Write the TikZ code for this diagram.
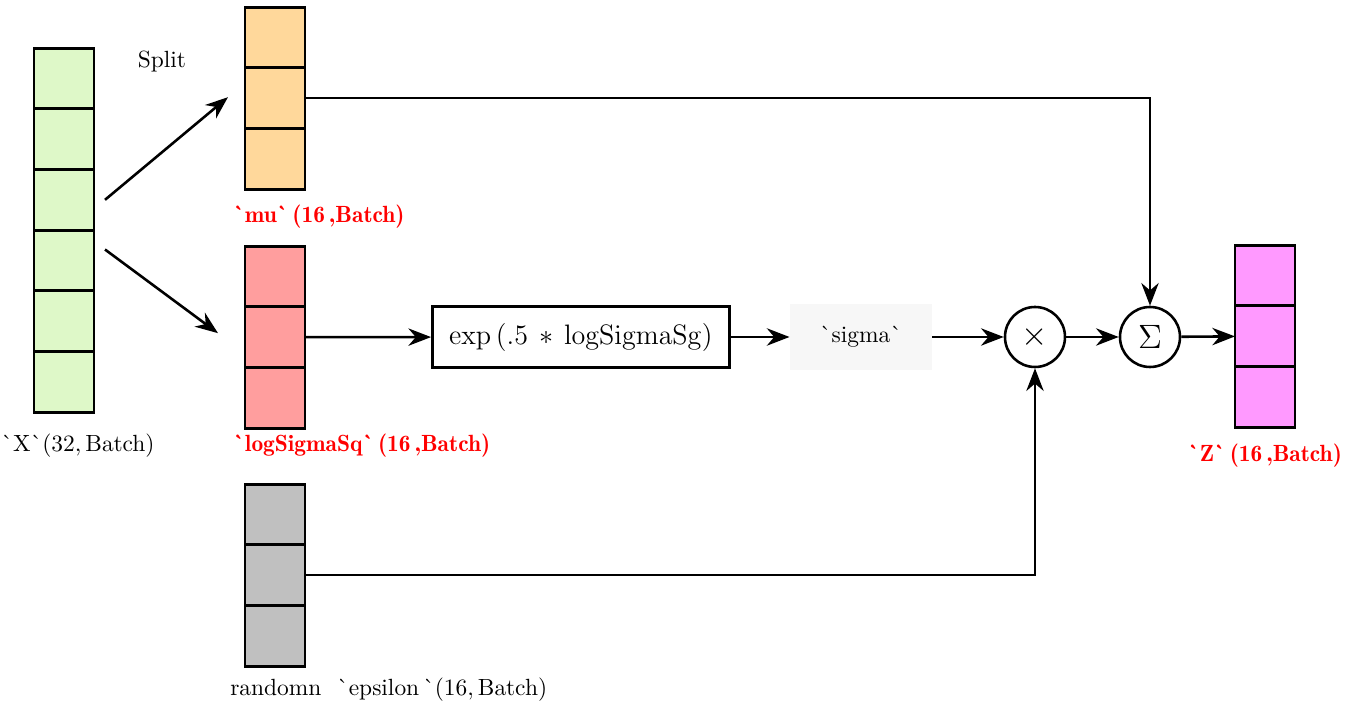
\documentclass[tikz,border=0pt]{standalone}
\usepackage{xcolor}
\usetikzlibrary{arrows.meta, calc, math}
\definecolor{xgreen}{RGB}{222,248,200}
\definecolor{muorange}{RGB}{255,216,155}
\definecolor{lsred}{RGB}{255,158,158}
\definecolor{epsgray}{RGB}{192,192,192}
\definecolor{zpink}{RGB}{255,153,255}
\definecolor{sigbg}{RGB}{247,247,247}
\newcommand{\bq}{\textasciigrave}

\begin{document}
\begin{tikzpicture}[x=0.015cm, y=-0.015cm,
  cell/.style={draw, line width=1.2pt, minimum width=0.9cm, minimum height=0.91cm, inner sep=0pt, outer sep=0pt},
  flow/.style={line width=1.1pt, -{Stealth[length=0.34cm, width=0.26cm]}},
  opnode/.style={draw, circle, line width=1.1pt, minimum size=0.9cm, inner sep=0pt},
  redlabel/.style={text=red, font=\fontseries{b}\selectfont}]
\tikzmath{
\h = 60.67;
}
\useasboundingbox (0,0) rectangle (1347,723);

% tensors
\foreach \i in {1,...,6}
  \node[cell, fill=xgreen] (x\i) at (64, {78.5+\h*(\i-1)}) {};
\foreach \i in {1,2,3} {
  \node[cell, fill=muorange] (mu\i) at (275, {37.5+\h*(\i-1)}) {};
  \node[cell, fill=lsred] (lg\i) at (275, {276.5+\h*(\i-1)}) {};
  \node[cell, fill=epsgray] (eps\i) at (275, {514.5+\h*(\i-1)}) {};
  \node[cell, fill=zpink] (z\i) at (1265, {275.5+\h*(\i-1)}) {};
}

% labels
\node (xlab) at (78,446) {\bq X\bq$(32,\mathrm{Batch})$};
\node[redlabel, anchor=west] (mulab) at (225,217) {\bq mu\bq\,(16\,,Batch)};
\node[redlabel, anchor=west] (lglab) at (225,446) {\bq logSigmaSq\bq\,(16\,,Batch)};
\node[redlabel] (zlab) at (1265,456) {\bq Z\bq\,(16\,,Batch)};
\node[anchor=west] (epslab) at (222,690) {randomn \ \bq epsilon\,\bq$(16,\mathrm{Batch})$};
\node (split) at (162,62) {Split};

% ops
\node[draw, line width=1.2pt, minimum width=4.455cm, minimum height=0.915cm, font=\large] (expbox) at (581,337) {$\exp\,(.5\,*\,\mathrm{logSigmaSg})$};
\node[fill=sigbg, minimum width=2.13cm, minimum height=1cm] (sigma) at (861,337) {\bq sigma\bq};
\node[opnode, font=\Large] (times) at (1035,337) {$\times$};
\node[opnode, font=\Large] (sum) at (1150,337) {$\Sigma$};

% split arrows
\coordinate (splitA) at ($(x3.east)+(11,0)$);
\coordinate (splitB) at ($(x4.east)+(11,-11)$);
\coordinate (muin) at ($(mu2.west)+(-17,-1)$);
\coordinate (lgin) at ($(lg2.west)+(-27,-4)$);
\draw[flow] (splitA) -- (muin);
\draw[flow] (splitB) -- (lgin);

\draw[flow] (lg2.east) -- (expbox);
\draw[flow] (expbox) -- (sigma);
\draw[flow] (sigma) -- (times);
\draw[flow] (times) -- (sum);
\draw[flow] (sum) -- (z2);
\draw[flow] (mu2.east) -| (sum);
\draw[flow] (eps2.east) -| (times);

\end{tikzpicture}
\end{document}
